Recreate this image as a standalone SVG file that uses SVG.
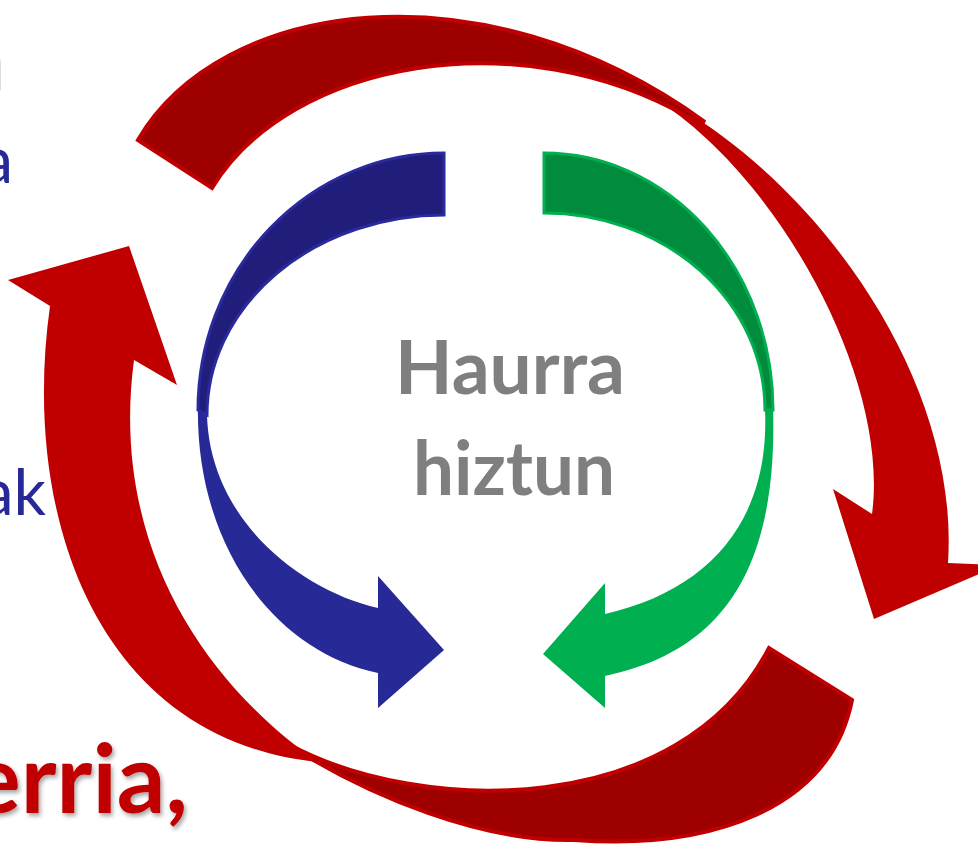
<svg xmlns="http://www.w3.org/2000/svg" width="978" height="845" viewBox="0 0 978 845">
<defs>
<style>
.redl{fill:#C00000;}
.redd{fill:#9E0000;stroke:#C00000;stroke-width:4;stroke-linejoin:miter;}
.bluel{fill:#262996;}
.blued{fill:#201E7A;stroke:#2A2A9E;stroke-width:3;}
.greenl{fill:#00B050;}
.greend{fill:#008C3C;stroke:#00B050;stroke-width:3;}
.center{font-family:Lato,"Liberation Sans",sans-serif;font-weight:700;fill:#7F7F7F;font-size:75px;}
.side{font-family:Lato,"Liberation Sans",sans-serif;fill:#262996;font-size:64px;}
</style>
<filter id="sh" x="-10%" y="-10%" width="130%" height="140%">
<feDropShadow dx="2" dy="3" stdDeviation="2" flood-color="#000" flood-opacity="0.35"/>
</filter>
</defs>
<rect width="978" height="845" fill="#fff"/>
<g id="side-texts">
<text x="5" y="90" font-family="Lato,'Liberation Sans',sans-serif" font-weight="700" font-size="86" fill="#595959" text-anchor="end">n</text>
<text class="side" x="13" y="183" text-anchor="end">a</text>
<text class="side" x="46" y="515" text-anchor="end">ak</text>
<text x="188" y="813" font-family="Lato,'Liberation Sans',sans-serif" font-weight="700" font-size="96" fill="#C00000" text-anchor="end" filter="url(#sh)">erria,</text>
</g>
<g id="connectors">
<g id="red-arrow-right">
<path class="redl" d="M660,102 L680,108 C820,190 960,380 948,563 L1000,565 L874,619 L833,489 L872,514 C890,380 780,180 660,102 Z"/>
<path class="redd" d="M138,140 C220,0 480,-40 705,122 L690,118 C520,20 290,60 212,188 Z"/>
</g>
<g id="red-arrow-left">
<path class="redl" d="M50,306 L8,280 L129,246 L177,385 L134,360 C110,540 200,680 318,762 C100,740 20,520 50,306 Z"/>
<path class="redd" d="M852,700 C830,810 710,850 574,840 C480,842 370,795 300,752 L290,745 C420,815 680,820 769,648 Z"/>
</g>
<g id="blue-arrow">
<path class="bluel" d="M198,405 C195,540 270,650 378,673 L378,708 L444,650 L378,576 L378,608 C300,590 210,520 207,415 Z"/>
<path class="blued" d="M444,153 A246,257 0 0 0 198,410 L207,415 A237,200 0 0 1 444,215 Z"/>
</g>
<g id="green-arrow">
<path class="greenl" d="M773,405 C778,560 730,650 605,676 L605,708 L543,654 L605,583 L605,614 C710,590 770,520 765,410 Z"/>
<path class="greend" d="M544,153 A229,257 0 0 1 773,410 L765,410 A221,197 0 0 0 544,213 Z"/>
</g>
</g>
<g id="node-center">
<text class="center" x="510" y="394" text-anchor="middle" textLength="230" lengthAdjust="spacingAndGlyphs">Haurra</text>
<text class="center" x="514" y="495" text-anchor="middle" textLength="202" lengthAdjust="spacingAndGlyphs">hiztun</text>
</g>
</svg>
